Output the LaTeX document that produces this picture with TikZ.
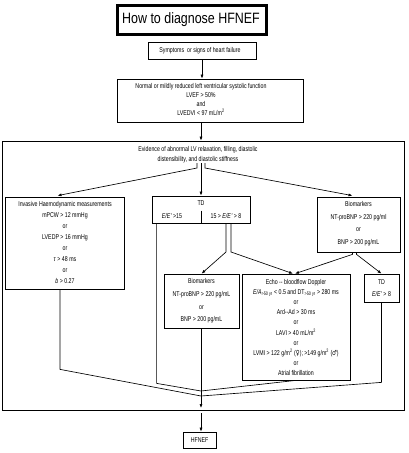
\documentclass[tikz,border=0pt]{standalone}
\usepackage{fontspec}
\setmainfont{Liberation Sans}
\newfontfamily\narrow[FakeStretch=0.75]{Liberation Sans}
\newfontfamily\narrowsym[FakeStretch=0.75]{DejaVu Sans}
\newfontfamily\titlefont[FakeStretch=0.83]{Liberation Sans}
\usetikzlibrary{arrows.meta}
\newcommand{\boxfont}[2]{\narrow\fontsize{#1}{#2}\selectfont}
\newcommand{\ee}{\textit{E/E}\kern0.3pt\textit{'}}
\begin{document}
\begin{tikzpicture}[x=1pt,y=-1pt,
  frame/.style={draw, line width=0.75pt, inner sep=0pt},
  txt/.style={inner sep=0pt, align=center},
  link/.style={line width=0.65pt},
  arr/.style={line width=0.65pt, -{Latex[length=4pt,width=3pt]}}]
\useasboundingbox (0,0) rectangle (408,453);

% boxes
\node[frame, line width=3pt, minimum width=149pt, minimum height=29pt] (title) at (192,19.5) {};
\node[frame, minimum width=108pt, minimum height=17pt] (symp) at (202,50.5) {};
\node[frame, minimum width=186pt, minimum height=43pt] (lvef) at (210,100.5) {};
\node[frame, minimum width=402pt, minimum height=269pt] (big) at (203,275.5) {};
\node[frame, minimum width=119pt, minimum height=92pt] (inv) at (64.5,243) {};
\node[frame, minimum width=98pt, minimum height=27pt] (td) at (201,209.5) {};
\node[frame, minimum width=83pt, minimum height=55pt] (bioR) at (358.5,224.5) {};
\node[frame, minimum width=75pt, minimum height=54pt] (bioM) at (201.5,301) {};
\node[frame, minimum width=108pt, minimum height=106pt] (echo) at (296,327) {};
\node[frame, minimum width=35pt, minimum height=28pt] (td8) at (381.5,288) {};
\node[frame, minimum width=33pt, minimum height=16pt] (hf) at (199.5,440) {};

% texts
\node[txt, font=\titlefont\fontsize{15}{17}\selectfont] (titletxt) at (191,19.5) {How to diagnose HFNEF};
\node[txt, font=\boxfont{7}{8}] (symptxt) at (200,50.5) {Symptoms\ \ or signs of heart failure};
\node[txt, font=\boxfont{7}{9}] (lveftxt) at (201,99.5)
  {Normal or mildly reduced left ventricular systolic function\\ LVEF > 50\%\\ and\\ LVEDVI < 97 mL/m\textsuperscript{2}};
\node[txt, font=\boxfont{7}{10}] (evtxt) at (198,155)
  {Evidence of abnormal LV relaxation, filling, diastolic\\ distensibility, and diastolic stiffness};
\node[txt, font=\boxfont{7}{11}] (invtxt) at (65,242.5)
  {Invasive Haemodynamic measurements\\ mPCW > 12 mmHg\\ or\\ LVEDP > 16 mmHg\\ or\\ \textit{τ} > 48 ms\\ or\\ \textit{b} > 0.27};
\node[txt, font=\boxfont{7}{8}] (tdtxt) at (201,203) {TD};
\node[txt, font=\boxfont{7}{8}] (td15) at (172,216) {\ee\,>15};
\node[txt, font=\boxfont{7}{8}] (td158) at (226,216) {15 > \ee\ > 8};
\draw[link] (201,210.5) -- (td.south);
\node[txt, font=\boxfont{7}{12.5}] (bioRtxt) at (358.5,223.5)
  {Biomarkers\\ NT-proBNP > 220 pg/ml\\ or\\ BNP > 200 pg/mL};
\node[txt, font=\boxfont{7}{12.7}] (bioMtxt) at (201.5,301)
  {Biomarkers\\ NT-proBNP > 220 pg/mL\\ or\\ BNP > 200 pg/mL};
\node[txt, font=\boxfont{7}{10.1}] (echotxt) at (296,327.5)
  {Echo -- bloodflow Doppler\\
   \textit{E/A}\textsubscript{>50 yr} < 0.5 and DT\textsubscript{>50 yr} > 280 ms\\ or\\
   Ard--Ad > 30 ms\\ or\\ LAVI > 40 mL/m\textsuperscript{2}\\ or\\
   LVMI > 122 g/m\textsuperscript{2} ({\narrowsym ♀}); >149 g/m\textsuperscript{2} ({\narrowsym ♂})\\ or\\
   Atrial fibrillation};
\node[txt, font=\boxfont{7}{12}] (td8txt) at (381.5,288) {TD\\ \ee\ > 8};
\node[txt, font=\boxfont{7}{8}] (hftxt) at (199.5,440) {HFNEF};

% junction points
\coordinate (evL) at (197,163);
\coordinate (evM) at (201,163);
\coordinate (evR) at (205,163);
\coordinate (jA) at (201,391);
\coordinate (jB) at (201,396);
\coordinate (jC) at (201,408);
\coordinate (out) at (201,413);

% connectors
\draw[arr] (symp.south) -- (symp.south |- lvef.north);
\draw[arr] (lvef.south -| lveftxt.south) -- (big.north -| lveftxt.south);
\draw[arr] (evL) -- ++(0,5) -- ([xshift=-7pt,yshift=1pt]inv.north);
\draw[arr] (evM) -- (td.north);
\draw[arr] (evR) -- ++(0,5) -- ([xshift=-6pt,yshift=1pt]bioR.north);

\draw[arr] (226,223) -- (226,252) -- (bioM.north);
\draw[arr] (231,223) -- (231,252) -- ([xshift=-3pt]echo.north);
\draw[arr] ([xshift=-6pt]bioR.south) -- ++(0,2) -- ([xshift=-1pt]echo.north);
\draw[arr] ([xshift=-2pt]bioR.south) -- ++(0,2) -- (td8.north);

\draw[link] ([xshift=-4.5pt]inv.south) -- ++(0,80) -- (jB);
\draw[link] ([xshift=5pt]td.south west) -- ++(0,160) -- (jA);
\draw[link] (echo.south) -- (jA);
\draw[link] (td8.south) -- ++(0,80) -- (jB);
\draw[arr] (bioM.south -| jA) -- (jC);
\draw[arr] (out) -- (hf.north -| out);
\end{tikzpicture}
\end{document}
